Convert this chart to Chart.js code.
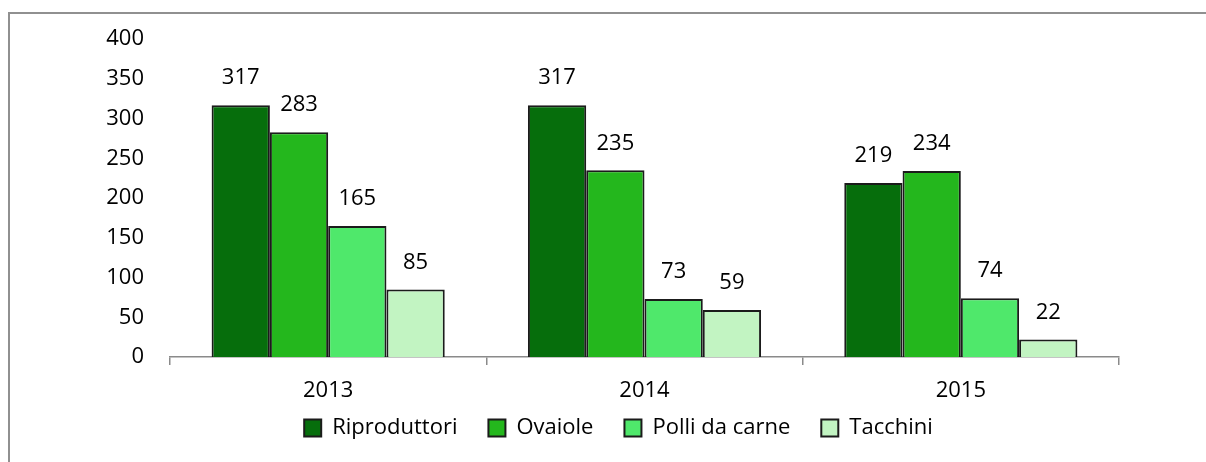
<!DOCTYPE html>
<html>
<head>
<meta charset="utf-8">
<script src="https://cdn.jsdelivr.net/npm/chart.js@4"></script>
<style>
    html, body { margin: 0; padding: 0; background: #fff; }
    #wrap { position: relative; width: 1206px; height: 462px; }
    #frame {
        position: absolute; left: 8px; top: 12px; right: -4px; bottom: -4px;
        border-left: 2px solid #909090; border-top: 2px solid #909090;
        pointer-events: none;
    }
</style>
</head>
<body>
<div id="wrap">
    <canvas id="chart" width="1206" height="462"></canvas>
    <div id="frame"></div>
</div>
<script>
const years = ["2013", "2014", "2015"];
const riproduttori = [317, 317, 219];
const ovaiole = [283, 235, 234];
const polliDaCarne = [165, 73, 74];
const tacchini = [85, 59, 22];
const yTicks = [0, 50, 100, 150, 200, 250, 300, 350, 400];

const FONT = { family: "Open Sans", size: 22 };
const AXIS_GREY = "#8a8a8a";

// value labels above each bar
const barLabels = {
    id: "barLabels",
    afterDatasetsDraw(chart) {
        const ctx = chart.ctx;
        ctx.save();
        ctx.font = `${FONT.size}px ${FONT.family}`;
        ctx.fillStyle = "#000";
        ctx.textAlign = "center";
        ctx.textBaseline = "middle";
        chart.data.datasets.forEach((ds, i) => {
            chart.getDatasetMeta(i).data.forEach((bar, j) => {
                ctx.fillText(ds.data[j], bar.x, bar.y - 27);
            });
        });
        ctx.restore();
    },
};

// pull the legend up a bit, closer to the year labels
const legendNudge = {
    id: "legendNudge",
    afterLayout(chart) {
        chart.legend.top -= 13;
        chart.legend.bottom -= 13;
    },
};

function series(label, data, color) {
    return {
        label,
        data,
        backgroundColor: color,
        borderColor: "#1b1b1b",
        borderWidth: 2,
        barPercentage: 1,
        categoryPercentage: 0.737,
    };
}

new Chart(document.getElementById("chart"), {
    type: "bar",
    data: {
        labels: years,
        datasets: [
            series("Riproduttori", riproduttori, "#066e0c"),
            series("Ovaiole", ovaiole, "#24b71d"),
            series("Polli da carne", polliDaCarne, "#4fe86b"),
            series("Tacchini", tacchini, "#c2f4c2"),
        ],
    },
    options: {
        responsive: false,
        animation: false,
        layout: { padding: { left: 31, right: 0, top: 38, bottom: 0 } },
        plugins: {
            tooltip: { enabled: false },
            legend: {
                position: "bottom",
                labels: {
                    font: FONT,
                    color: "#000",
                    boxWidth: 17,
                    boxHeight: 17,
                    padding: 31,
                },
            },
        },
        scales: {
            x: {
                grid: {
                    offset: true,
                    drawOnChartArea: false,
                    drawTicks: true,
                    tickLength: 8,
                    color: AXIS_GREY,
                    lineWidth: 1.5,
                },
                border: { display: true, color: AXIS_GREY, width: 1.5 },
                ticks: { font: FONT, color: "#000", padding: 13 },
                afterFit(scale) { scale.height = 42; },
            },
            y: {
                min: 0,
                max: 400,
                grid: { display: false, drawTicks: false },
                border: { display: false },
                afterBuildTicks(scale) { scale.ticks = yTicks.map(v => ({ value: v })); },
                ticks: { font: FONT, color: "#000", padding: 26 },
                afterFit(scale) { scale.width = 139; },
            },
            y2: {
                position: "right",
                grid: { display: false, drawTicks: false },
                border: { display: false },
                ticks: { display: false },
                afterFit(scale) { scale.width = 87; },
            },
        },
    },
    plugins: [barLabels, legendNudge],
});
</script>
</body>
</html>
